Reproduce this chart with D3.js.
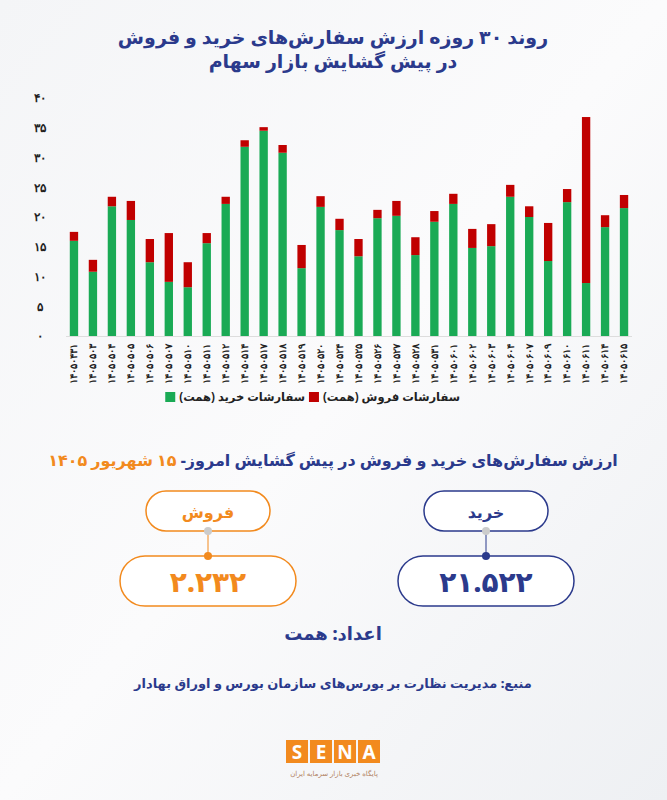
<!DOCTYPE html>
<html><head><meta charset="utf-8">
<script src="https://cdn.jsdelivr.net/npm/d3@7"></script>
<style>body{margin:0;background:#fff}svg{display:block;font-family:"Noto Sans","DejaVu Sans",sans-serif}</style>
</head><body>
<script>
const categories=["14050431","14050503","14050504","14050505","14050506","14050507","14050510","14050511","14050512","14050514","14050517","14050518","14050519","14050520","14050524","14050525","14050526","14050527","14050528","14050531","14050601","14050602","14050603","14050604","14050607","14050609","14050610","14050611","14050614","14050615"];
const buy=[16.0,10.8,21.8,19.5,12.4,9.1,8.2,15.6,22.2,31.8,34.5,30.8,11.4,21.7,17.8,13.4,19.8,20.2,13.6,19.2,22.2,14.8,15.1,23.4,20.0,12.6,22.5,8.9,18.3,21.5];
const sell=[1.5,2.0,1.6,3.2,3.9,8.2,4.2,1.7,1.2,1.1,0.6,1.3,3.9,1.8,1.9,2.9,1.4,2.5,3.0,1.8,1.7,3.2,3.7,2.0,1.8,6.4,2.2,27.9,2.0,2.2];
const yTicks=[0,5,10,15,20,25,30,35,40];
const fa=s=>String(s).replace(/\d/g,d=>"۰۱۲۳۴۵۶۷۸۹"[d]);
const W=667,H=800,navy="#2b3a8c",orange="#f28a1e",green="#1aaa55",red="#c00000";
const svg=d3.select("body").append("svg").attr("width",W).attr("height",H);
const bg=svg.append("defs").append("linearGradient").attr("id","bg").attr("x1",0).attr("y1",0).attr("x2",1).attr("y2",1);
bg.append("stop").attr("offset",0).attr("stop-color","#f4f5f7");bg.append("stop").attr("offset",0.5).attr("stop-color","#fbfbfc");bg.append("stop").attr("offset",1).attr("stop-color","#eef0f3");
svg.append("rect").attr("width",W).attr("height",H).attr("fill","url(#bg)");
const t=svg.append("g").attr("text-anchor","middle").attr("fill",navy).attr("font-weight",800).attr("font-size",19).attr("direction","rtl");
t.append("text").attr("x",333).attr("y",44).text("روند ۳۰ روزه ارزش سفارش‌های خرید و فروش");
t.append("text").attr("x",333).attr("y",68).text("در پیش گشایش بازار سهام");
const x=d3.scaleBand().domain(categories).range([66,632]).paddingInner(0.56).paddingOuter(0.2);
const y=d3.scaleLinear().domain([0,40]).range([336,98]);
const ax=svg.append("g").attr("transform","translate(46,0)").call(d3.axisLeft(y).tickValues(yTicks).tickFormat(fa).tickSize(0));
ax.select(".domain").remove();
ax.selectAll("text").attr("font-size",12).attr("font-weight",700).attr("fill","#222").attr("text-anchor","middle").attr("x",-6);
const g=svg.append("g");
g.selectAll(".b").data(categories).join("rect").attr("x",d=>x(d)).attr("width",x.bandwidth()).attr("y",(d,i)=>y(buy[i])).attr("height",(d,i)=>y(0)-y(buy[i])).attr("fill",green);
g.selectAll(".s").data(categories).join("rect").attr("x",d=>x(d)).attr("width",x.bandwidth()).attr("y",(d,i)=>y(buy[i]+sell[i])).attr("height",(d,i)=>y(buy[i])-y(buy[i]+sell[i])).attr("fill",red);
svg.append("line").attr("x1",66).attr("x2",632).attr("y1",336.5).attr("y2",336.5).attr("stroke","#ddd");
const xa=svg.append("g").attr("transform","translate(0,342)").call(d3.axisBottom(x).tickFormat(fa).tickSize(0));
xa.select(".domain").remove();
xa.selectAll("text").attr("transform","rotate(-90)").attr("text-anchor","end").attr("x",-2).attr("y",0).attr("dy","0.35em").attr("font-size",9.5).attr("font-weight",700).attr("fill","#222");
const lg=svg.append("g").attr("font-size",11.5).attr("font-weight",700).attr("fill","#222").attr("direction","rtl").attr("text-anchor","start");
[["سفارشات خرید (همت)",305,green],["سفارشات فروش (همت)",460,red]].forEach(([txt,xr,c])=>{
 const tx=lg.append("text").attr("x",xr).attr("y",401).text(txt);
 const bb=tx.node().getBBox();
 lg.append("rect").attr("x",bb.x-14).attr("y",392).attr("width",10).attr("height",10).attr("fill",c);
});
const s2=svg.append("g").attr("text-anchor","middle").attr("font-weight",800).attr("direction","rtl");
const h=s2.append("text").attr("x",333).attr("y",466).attr("font-size",16);
h.append("tspan").attr("fill",navy).text("ارزش سفارش‌های خرید و فروش در پیش گشایش امروز- ");
h.append("tspan").attr("fill",orange).text("۱۵ شهریور ۱۴۰۵");
function box(cx,c,label,val){
 const b=svg.append("g");
 b.append("rect").attr("x",cx-62).attr("y",491).attr("width",124).attr("height",40).attr("rx",20).attr("fill","#fff").attr("stroke",c).attr("stroke-width",1.5);
 b.append("text").attr("x",cx).attr("y",518).attr("text-anchor","middle").attr("fill",c).attr("font-size",16).attr("font-weight",800).text(label);
 b.append("line").attr("x1",cx).attr("x2",cx).attr("y1",531).attr("y2",556).attr("stroke",c);
 b.append("circle").attr("cx",cx).attr("cy",531).attr("r",4).attr("fill","#ccc");
 b.append("rect").attr("x",cx-88).attr("y",556).attr("width",176).attr("height",50).attr("rx",25).attr("fill","#fff").attr("stroke",c).attr("stroke-width",1.5);
 b.append("circle").attr("cx",cx).attr("cy",556).attr("r",4).attr("fill",c);
 b.append("text").attr("x",cx).attr("y",592).attr("text-anchor","middle").attr("fill",c).attr("font-size",28).attr("font-weight",800).text(val);
}
box(208,orange,"فروش","۲.۲۳۲");
box(486,navy,"خرید","۲۱.۵۲۲");
s2.append("text").attr("x",333).attr("y",640).attr("fill",navy).attr("font-size",18).text("اعداد: همت");
s2.append("text").attr("x",333).attr("y",688).attr("fill",navy).attr("font-size",13).text("منبع: مدیریت نظارت بر بورس‌های سازمان بورس و اوراق بهادار");
const L=svg.append("g");
["S","E","N","A"].forEach((c,i)=>{L.append("rect").attr("x",286+i*24).attr("y",740).attr("width",22).attr("height",23).attr("fill",orange);
L.append("text").attr("x",297+i*24).attr("y",759).attr("text-anchor","middle").attr("fill","#fff").attr("font-size",19).attr("font-weight",700).text(c);});
L.append("text").attr("x",334).attr("y",776).attr("text-anchor","middle").attr("fill","#b08060").attr("font-size",7).attr("direction","rtl").text("پایگاه خبری بازار سرمایه ایران");
</script>
</body></html>
